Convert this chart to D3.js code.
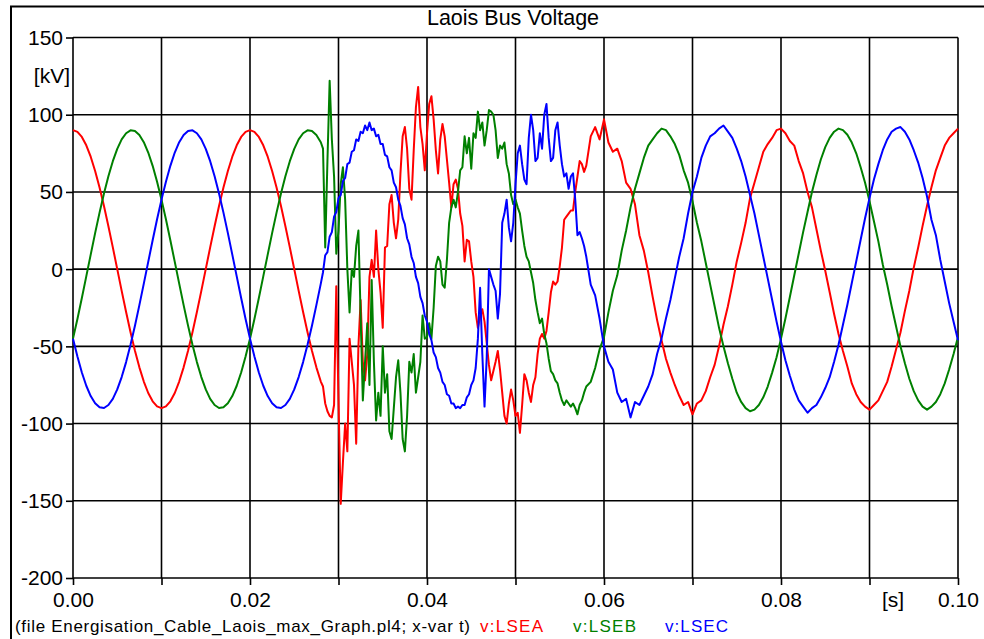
<!DOCTYPE html>
<html>
<head>
<meta charset="utf-8">
<script src="https://cdn.jsdelivr.net/npm/d3@7"></script>
<style>
  html, body { margin: 0; padding: 0; background: #fff; }
  svg { display: block; }
  text { font-family: "Liberation Sans", Arial, sans-serif; }
</style>
</head>
<body>
<script>
// ---- Axis ticks -------------------------------------------------------
const timeTicks = [0, 0.01, 0.02, 0.03, 0.04, 0.05, 0.06, 0.07, 0.08, 0.09, 0.1];
const timeTickLabels = ["0.00", "", "0.02", "", "0.04", "", "0.06", "", "0.08", "", "0.10"];
const voltTicks = [-200, -150, -100, -50, 0, 50, 100, 150];

// ---- Series (kV) ------------------------------------------------------
// Steady state before energisation, sampled every 0.5 ms from 0 to 28.0 ms
const lseaPre = [
  90, 88.9, 85.6, 80.2, 72.8, 63.6, 52.9, 40.9, 27.8, 14.1,
  0, -14.1, -27.8, -40.9, -52.9, -63.6, -72.8, -80.2, -85.6, -88.9,
  -90, -88.9, -85.6, -80.2, -72.8, -63.6, -52.9, -40.9, -27.8, -14.1,
  0, 14.1, 27.8, 40.9, 52.9, 63.6, 72.8, 80.2, 85.6, 88.9,
  90, 88.9, 85.6, 80.2, 72.8, 63.6, 52.9, 40.9, 27.8, 14.1,
  0, -14.1, -27.8, -40.9, -52.9, -63.6, -72.8
];
const lsebPre = [
  -45, -32.3, -18.7, -4.7, 9.4, 23.3, 36.6, 49.0, 60.2, 69.9,
  77.9, 84.0, 88.0, 89.9, 89.5, 86.9, 82.2, 75.5, 66.9, 56.6,
  45.0, 32.3, 18.7, 4.7, -9.4, -23.3, -36.6, -49.0, -60.2, -69.9,
  -77.9, -84.0, -88.0, -89.9, -89.5, -86.9, -82.2, -75.5, -66.9, -56.6,
  -45.0, -32.3, -18.7, -4.7, 9.4, 23.3, 36.6, 49.0, 60.2, 69.9,
  77.9, 84.0, 88.0, 89.9, 89.5, 86.9, 82.2
];
const lsecPre = [
  -45, -56.6, -66.9, -75.5, -82.2, -86.9, -89.5, -89.9, -88.0, -84.0,
  -77.9, -69.9, -60.2, -49.0, -36.6, -23.3, -9.4, 4.7, 18.7, 32.3,
  45.0, 56.6, 66.9, 75.5, 82.2, 86.9, 89.5, 89.9, 88.0, 84.0,
  77.9, 69.9, 60.2, 49.0, 36.6, 23.3, 9.4, -4.7, -18.7, -32.3,
  -45.0, -56.6, -66.9, -75.5, -82.2, -86.9, -89.5, -89.9, -88.0, -84.0,
  -77.9, -69.9, -60.2, -49.0, -36.6, -23.3, -9.4
];

// Switching transient, sampled every 0.25 ms from 28.25 to 58.0 ms (one row per ms)
const lseaTransient = [
  -76, -87, -92, -95,
  -96, -88, -11, -85,
  -152, -125, -100, -118,
  -45, -60, -75, -113,
  -50, -20, -60, -72,
  -55, -5, 6, -5,
  25, 0, -15, -38,
  14, 15, 42, 48,
  30, 20, 32, 62,
  86, 92, 78, 52,
  45, 77, 105, 118,
  92, 81, 64, 88,
  107, 112, 97, 77,
  62, 84, 94, 86,
  71, 56, 40, 55,
  58, 52, 36, 28,
  5, 19, 18, 5,
  -5, -28, -38, -31,
  -26, -34, -48, -62,
  -72, -66, -60, -53,
  -65, -80, -95, -100,
  -87, -78, -85, -95,
  -93, -106, -88, -68,
  -72, -80, -86, -75,
  -70, -55, -45, -42,
  -45, -40, -28, -15,
  -8, -10, -8, 2,
  14, 32, 34, 36,
  38, 38, 50, 60,
  70, 68, 63, 67
];
const lsebTransient = [
  78, 14, 70, 122,
  84, 60, 10, 25,
  55, 66, 45, 0,
  -28, 0, -5, 15,
  25, -30, -85, -60,
  -35, -75, -7, -60,
  -98, -80, -95, -50,
  -80, -68, -105, -110,
  -90, -70, -59, -80,
  -110, -118, -95, -60,
  -67, -55, -80, -70,
  -60, -30, -45, -44,
  -35, -45, -25, 2,
  8, 5, -10, -12,
  6, 30, 40, 45,
  40, 50, 64, 66,
  86, 75, 85, 65,
  88, 85, 102, 90,
  95, 80, 90, 103,
  102, 100, 90, 72,
  80, 78, 82, 68,
  62, 48, 42, 45,
  40, 36, 25, 15,
  8, 5, -2, -9,
  -20, -28, -35, -32,
  -42, -48, -58, -66,
  -68, -72, -74, -80,
  -85, -88, -85, -87,
  -89, -87, -90, -94,
  -88, -85, -80, -76
];
const lsecTransient = [
  -2, 9, 11, 21,
  24, 34, 37, 46,
  48, 57, 59, 68,
  69, 76, 77, 84,
  83, 89, 88, 93,
  90, 95, 90, 91,
  86, 87, 81, 81,
  74, 73, 66, 64,
  56, 53, 45, 41,
  33, 29, 20, 16,
  8, 4, -5, -9,
  -18, -22, -30, -34,
  -42, -46, -54, -57,
  -64, -67, -73, -75,
  -81, -82, -87, -87,
  -90, -89, -90, -88,
  -88, -83, -81, -75,
  -72, -64, -45, -12,
  -55, -89, -57, 0,
  -5, -10, -14, -32,
  -16, 30, 36, 45,
  27, 18, 30, 55,
  75, 80, 68, 58,
  55, 85, 100, 90,
  70, 72, 88, 78,
  100, 107, 85, 70,
  72, 90, 95, 80,
  68, 60, 62, 52,
  60, 62, 45, 22,
  24, 20, 15, 8
];

// Settled waveforms, sampled every 0.5 ms from 58.5 to 100 ms
const lseaPost = [
  86, 92, 84, 97, 82, 76, 78, 70, 56, 52,
  42, 22, 12, -2, -18, -33, -46, -58, -67, -75,
  -82, -88, -86, -94, -87, -85, -79, -70, -62, -50,
  -36, -24, -10, 5, 17, 30, 46, 56, 66, 76,
  81, 85, 90, 91, 88, 83, 80, 70, 62, 50,
  40, 26, 12, -1, -15, -29, -42, -53, -63, -74,
  -81, -86, -89, -91, -88, -85, -79, -73, -63, -52,
  -41, -27, -14, 1, 14, 28, 41, 53, 64, 72,
  80, 85, 88, 91
];
const lsebPost = [
  -73, -64, -52, -44, -28, -14, -4, 12, 25, 40,
  52, 62, 72, 80, 84, 88, 91, 90, 86, 81,
  74, 64, 56, 44, 30, 18, 4, -10, -24, -38,
  -50, -61, -71, -80, -86, -90, -92, -91, -88, -83,
  -76, -67, -57, -45, -32, -18, -4, 10, 24, 37,
  50, 61, 71, 79, 85, 89, 91, 90, 87, 82,
  75, 66, 56, 44, 31, 18, 3, -10, -24, -37,
  -50, -61, -71, -79, -85, -89, -91, -89, -86, -81,
  -74, -65, -55, -44
];
const lsecPost = [
  -10, -17, -32, -50, -60, -65, -80, -86, -84, -96,
  -86, -88, -82, -76, -68, -55, -45, -32, -20, -6,
  8, 20, 36, 50, 60, 72, 80, 86, 88, 91,
  93, 89, 85, 78, 70, 60, 48, 36, 22, 8,
  -6, -20, -34, -47, -59, -69, -78, -85, -89, -93,
  -90, -88, -83, -77, -70, -60, -49, -36, -23, -9,
  5, 19, 33, 46, 58, 68, 77, 84, 89, 91,
  92, 89, 84, 77, 69, 59, 47, 32, 22, 6,
  -8, -22, -34, -46
];

const seriesNames = ["v:LSEA", "v:LSEB", "v:LSEC"];
const seriesColors = ["#ff0000", "#008000", "#0000ff"];

// ---- Sampling grid (ms) for each recorded block ------------------------
function blockTimes(values, startMs, stepMs) {
  return values.map((_, i) => (startMs + i * stepMs) / 1000);
}
function joinBlocks(pre, tr, post) {
  const t = blockTimes(pre, 0, 0.5)
    .concat(blockTimes(tr, 28.25, 0.25))
    .concat(blockTimes(post, 58.5, 0.5));
  const v = pre.concat(tr, post);
  return t.map((ti, i) => [ti, v[i]]);
}
const series = [
  joinBlocks(lseaPre, lseaTransient, lseaPost),
  joinBlocks(lsebPre, lsebTransient, lsebPost),
  joinBlocks(lsecPre, lsecTransient, lsecPost)
];

// ---- Drawing ------------------------------------------------------------
const W = 984, H = 639;
const svg = d3.select("body").append("svg").attr("width", W).attr("height", H);
svg.append("rect").attr("width", W).attr("height", H).attr("fill", "#fff");

// outer frame (runs off the right and bottom edges)
svg.append("rect")
  .attr("x", 11).attr("y", 6.5).attr("width", 1000).attr("height", 700)
  .attr("fill", "none").attr("stroke", "#000").attr("stroke-width", 2);

const x = d3.scaleLinear().domain([0, 0.1]).range([73, 958]);
const y = d3.scaleLinear().domain([-200, 150]).range([578, 37.5]);

const font = '"Liberation Sans", Arial, sans-serif';

// grid
const grid = svg.append("g").attr("stroke", "#000").attr("stroke-width", 1.6);
grid.selectAll("line.v").data(timeTicks).join("line")
  .attr("x1", d => x(d)).attr("x2", d => x(d))
  .attr("y1", y(150)).attr("y2", y(-200));
grid.selectAll("line.h").data(voltTicks).join("line")
  .attr("x1", x(0)).attr("x2", x(0.1))
  .attr("y1", d => y(d)).attr("y2", d => y(d));

// axes
const yAxis = d3.axisLeft(y).tickValues(voltTicks).tickSize(7).tickPadding(3)
  .tickFormat(d => String(d));
const gy = svg.append("g").attr("transform", `translate(${x(0)},0)`).call(yAxis);
gy.select(".domain").remove();
gy.selectAll("line").attr("stroke-width", 1.6);
gy.selectAll("text").attr("font-family", font).attr("font-size", 21)
  .attr("fill", "#000").attr("dy", "0.33em").attr("x", -10);

const xAxis = d3.axisBottom(x).tickValues(timeTicks).tickSize(7)
  .tickFormat((d, i) => timeTickLabels[i]);
const gx = svg.append("g").attr("transform", `translate(0,${y(-200)})`).call(xAxis);
gx.select(".domain").remove();
gx.selectAll("line").attr("stroke-width", 1.6);
gx.selectAll("text").attr("font-family", font).attr("font-size", 21)
  .attr("fill", "#000").attr("y", 29).attr("dy", 0);

// unit labels
svg.append("text").attr("x", 70).attr("y", 83).attr("text-anchor", "end")
  .attr("font-family", font).attr("font-size", 21).text("[kV]");
svg.append("text").attr("x", 893).attr("y", 607).attr("text-anchor", "middle")
  .attr("font-family", font).attr("font-size", 21).text("[s]");

// title
svg.append("text").attr("x", 513).attr("y", 25).attr("text-anchor", "middle")
  .attr("font-family", font).attr("font-size", 21.5).text("Laois Bus Voltage");

// waveforms
const line = d3.line().x(d => x(d[0])).y(d => y(d[1]));
svg.append("g").selectAll("path").data(series).join("path")
  .attr("d", line)
  .attr("fill", "none")
  .attr("stroke", (d, i) => seriesColors[i])
  .attr("stroke-width", 2)
  .attr("stroke-linejoin", "round");

// footer with file name and legend
svg.append("text").attr("x", 15).attr("y", 632)
  .attr("font-family", font).attr("font-size", 17)
  .attr("textLength", 455).attr("lengthAdjust", "spacing")
  .text("(file Energisation_Cable_Laois_max_Graph.pl4; x-var t)");
const legendX = [480, 573, 665];
svg.append("g").selectAll("text").data(seriesNames).join("text")
  .attr("x", (d, i) => legendX[i]).attr("y", 632)
  .attr("font-family", font).attr("font-size", 17)
  .attr("textLength", 63).attr("lengthAdjust", "spacing")
  .attr("fill", (d, i) => seriesColors[i])
  .text(d => d);
</script>
</body>
</html>
